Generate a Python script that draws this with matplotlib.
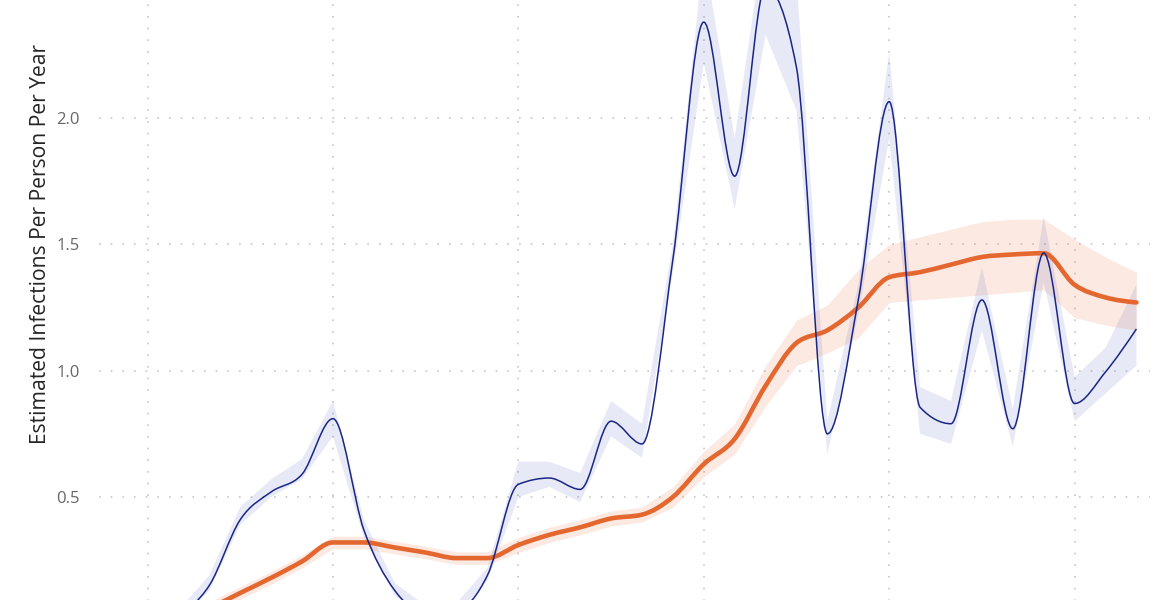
import matplotlib
matplotlib.use("Agg")
from matplotlib import pyplot as plt
from matplotlib.path import Path
from matplotlib.patches import PathPatch

# month index (0 = Jan 2020), one value per month
months = list(range(7, 39))

weekly = [0.03, 0.15, 0.41, 0.52, 0.59, 0.81, 0.37, 0.13, 0.04, 0.05,
          0.19, 0.55, 0.575, 0.53, 0.80, 0.71, 1.44, 2.38, 1.77, 2.52,
          2.20, 0.75, 1.28, 2.065, 0.855, 0.79, 1.28, 0.77, 1.466, 0.87,
          0.995, 1.165]
weekly_lo = [0.01, 0.13, 0.39, 0.50, 0.57, 0.74, 0.34, 0.11, 0.02, 0.03,
             0.17, 0.50, 0.54, 0.48, 0.74, 0.655, 1.39, 2.22, 1.64, 2.33,
             2.03, 0.67, 1.22, 1.92, 0.75, 0.71, 1.16, 0.70, 1.35, 0.80,
             0.91, 1.02]
weekly_hi = [0.05, 0.19, 0.46, 0.57, 0.65, 0.88, 0.41, 0.16, 0.07, 0.08,
             0.22, 0.64, 0.64, 0.595, 0.88, 0.79, 1.50, 2.65, 1.92, 2.75,
             2.55, 0.80, 1.34, 2.26, 0.935, 0.88, 1.41, 0.85, 1.61, 0.975,
             1.09, 1.34]

rolling = [0.01, 0.06, 0.12, 0.18, 0.245, 0.32, 0.32, 0.30, 0.28, 0.258,
           0.258, 0.31, 0.35, 0.38, 0.415, 0.43, 0.50, 0.63, 0.73, 0.94,
           1.11, 1.16, 1.25, 1.37, 1.39, 1.42, 1.45, 1.46, 1.465, 1.34,
           1.29, 1.27]
rolling_lo = [0.0, 0.035, 0.095, 0.155, 0.22, 0.295, 0.295, 0.275, 0.255,
              0.233, 0.233, 0.28, 0.32, 0.35, 0.385, 0.40, 0.46, 0.58, 0.67,
              0.86, 1.02, 1.07, 1.13, 1.27, 1.28, 1.29, 1.30, 1.31, 1.32,
              1.21, 1.18, 1.16]
rolling_hi = [0.035, 0.085, 0.145, 0.205, 0.27, 0.345, 0.345, 0.325, 0.305,
              0.283, 0.283, 0.34, 0.38, 0.41, 0.445, 0.46, 0.54, 0.68, 0.79,
              1.02, 1.20, 1.26, 1.40, 1.50, 1.53, 1.56, 1.59, 1.60, 1.60,
              1.52, 1.45, 1.39]

y_ticks = [0.0, 0.5, 1.0, 1.5, 2.0, 2.5]
grid_months = [6, 12, 18, 24, 30, 36]


def sign(v):
    return (v > 0) - (v < 0)


def monotone_path(xs, ys):
    # monotone cubic (same idea as d3 curveMonotoneX), as bezier segments
    n = len(xs)
    h = [xs[i + 1] - xs[i] for i in range(n - 1)]
    s = [(ys[i + 1] - ys[i]) / h[i] for i in range(n - 1)]
    t = [0.0] * n
    for i in range(1, n - 1):
        p = (s[i - 1] * h[i] + s[i] * h[i - 1]) / (h[i - 1] + h[i])
        t[i] = (sign(s[i - 1]) + sign(s[i])) * min(abs(s[i - 1]), abs(s[i]),
                                                   0.5 * abs(p))
    t[0] = (3 * s[0] - t[1]) / 2
    t[-1] = (3 * s[-1] - t[-2]) / 2
    verts = [(xs[0], ys[0])]
    codes = [Path.MOVETO]
    for i in range(n - 1):
        dx = h[i] / 3
        verts += [(xs[i] + dx, ys[i] + dx * t[i]),
                  (xs[i + 1] - dx, ys[i + 1] - dx * t[i + 1]),
                  (xs[i + 1], ys[i + 1])]
        codes += [Path.CURVE4] * 3
    return Path(verts, codes)


fig = plt.figure(figsize=(11.76, 6), dpi=100)
# axes runs past the top and bottom edges of the picture (chart is cropped)
ax = fig.add_axes([99 / 1176, -0.0388, 1051 / 1176, 1.0946])
ax.set_xlim(4.43, 38.44)
ax.set_ylim(0, 2.6)

ax.fill_between(months, rolling_lo, rolling_hi, color="#F07040", alpha=0.15,
                linewidth=0, zorder=2)
ax.fill_between(months, weekly_lo, weekly_hi, color="#3F51B5", alpha=0.12,
                linewidth=0, zorder=2)

ax.add_patch(PathPatch(monotone_path(months, rolling), facecolor="none",
                       edgecolor="#E3672F", linewidth=3.3, capstyle="round",
                       joinstyle="round", zorder=3))
ax.add_patch(PathPatch(monotone_path(months, weekly), facecolor="none",
                       edgecolor="#1A2686", linewidth=1.1, zorder=4))

ax.set_xticks(grid_months)
ax.set_yticks(y_ticks)
# 0.0 and 2.5 sit outside the cropped picture, so leave them unlabelled
ax.set_yticklabels(["" if v in (0.0, 2.5) else f"{v:.1f}" for v in y_ticks])
ax.tick_params(axis="both", length=0, labelbottom=False, labelsize=12,
               labelcolor="#666666", pad=14)
for lab in ax.get_yticklabels():
    lab.set_family(["Open Sans", "DejaVu Sans"])
ax.grid(True, color="#c8c8c8", linestyle=(0, (1, 6)), linewidth=1.2)
ax.set_axisbelow(True)
for side in ax.spines:
    ax.spines[side].set_visible(False)

fig.text(41 / 1176, 1 - 244 / 600, "Estimated Infections Per Person Per Year",
         rotation=90, ha="center", va="center", fontsize=15.2,
         color="#252525", family=["Open Sans", "DejaVu Sans"])

fig.savefig("out.png", dpi=100)
